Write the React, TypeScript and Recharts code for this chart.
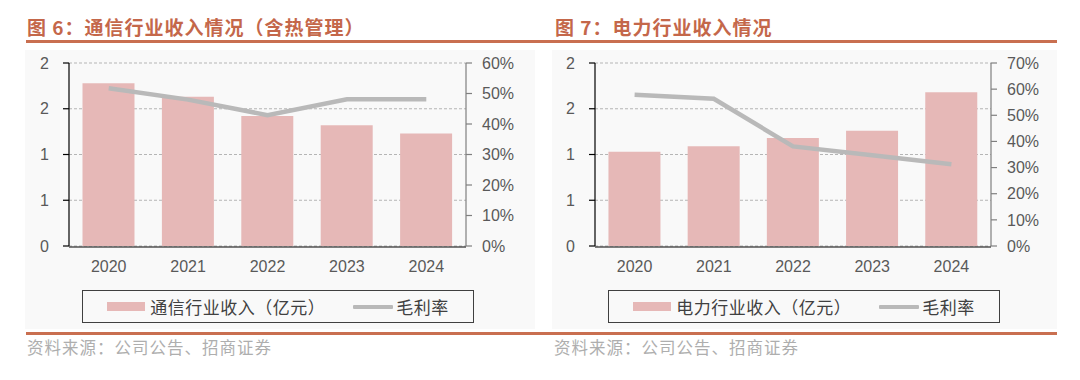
import React from 'react';
import {
  ComposedChart, Bar, Line, XAxis, YAxis, CartesianGrid, Legend,
} from 'recharts';

const years = ['2020', '2021', '2022', '2023', '2024'];
const commRevenue = [1.78, 1.63, 1.42, 1.32, 1.23];
const commMargin = [0.517, 0.48, 0.429, 0.481, 0.481];
const powerRevenue = [1.03, 1.09, 1.18, 1.26, 1.68];
const powerMargin = [0.579, 0.563, 0.381, 0.347, 0.313];
const revenueTicks = [0, 0.5, 1, 1.5, 2];
const commPctTicks = [0, 0.1, 0.2, 0.3, 0.4, 0.5, 0.6];
const powerPctTicks = [0, 0.1, 0.2, 0.3, 0.4, 0.5, 0.6, 0.7];
const edgeTicks = [0, 1, 2, 3, 4, 5];

const LATIN = '"Liberation Sans", Arial, sans-serif';
const CJK = '"Noto Sans CJK SC", "Liberation Sans", sans-serif';
const BAR_COLOR = '#e6b8b7';
const LINE_COLOR = '#b9b9b9';
const TITLE_COLOR = '#c4674a';
const RULE_COLOR = '#c96f50';

function buildData(revenue: number[], margin: number[]) {
  return years.map((y, i) => ({ year: y, revenue: revenue[i], margin: margin[i] }));
}

const LegendBox = (props: any) => {
  const payload = [...(props.payload || [])].sort(
    (a: any, b: any) => (a.type === 'rect' ? 0 : 1) - (b.type === 'rect' ? 0 : 1),
  );
  return (
    <div
      style={{
        boxSizing: 'border-box',
        width: '100%',
        height: '100%',
        border: '1.5px solid #404040',
        display: 'flex',
        alignItems: 'center',
        justifyContent: 'center',
        fontFamily: CJK,
        fontSize: 17,
        letterSpacing: 0.5,
        color: '#404040',
      }}
    >
      {payload.map((p: any, i: number) => (
        <div key={i} style={{ display: 'flex', alignItems: 'center', marginLeft: i === 0 ? 0 : 28 }}>
          {p.type === 'rect' ? (
            <div style={{ width: 38, height: 9, background: p.color, marginRight: 5 }} />
          ) : (
            <div style={{ width: 40, height: 4, background: p.color, marginRight: 3, borderRadius: 1 }} />
          )}
          <span style={{ lineHeight: '20px' }}>{p.value}</span>
        </div>
      ))}
    </div>
  );
};

type PanelProps = {
  left: number;
  width: number;
  leftAxisW: number;
  rightAxisW: number;
  legendLeft: number;
  revenue: number[];
  margin: number[];
  revenueName: string;
  pctTicks: number[];
};

function Panel(p: PanelProps) {
  const data = buildData(p.revenue, p.margin);
  const pctMax = p.pctTicks[p.pctTicks.length - 1];
  const tickStyle = { fill: '#595959', fontSize: 16, fontFamily: LATIN };
  return (
    <div style={{ position: 'absolute', left: p.left, top: 50, width: p.width, height: 279, background: '#f9f9f9' }}>
      <ComposedChart
        width={p.width}
        height={279}
        data={data}
        margin={{ top: 13, right: 0, bottom: 81, left: 0 }}
        barCategoryGap="17%"
      >
        <CartesianGrid
          xAxisId="cat"
          yAxisId="rev"
          vertical={false}
          stroke="#b5b5b5"
          strokeDasharray="3 2"
        />
        <XAxis
          xAxisId="edges"
          type="number"
          domain={[0, 5]}
          ticks={edgeTicks}
          allowDataOverflow
          height={1}
          tick={false}
          tickSize={6}
          axisLine={{ stroke: '#000', strokeWidth: 1.2 }}
          tickLine={{ stroke: '#000', strokeWidth: 1.2 }}
        />
        <XAxis
          xAxisId="cat"
          dataKey="year"
          height={1}
          axisLine={false}
          tickLine={false}
          tickSize={5}
          tickMargin={10}
          tick={tickStyle}
          interval={0}
        />
        <YAxis
          yAxisId="rev"
          orientation="left"
          width={p.leftAxisW}
          domain={[0, 2]}
          ticks={revenueTicks}
          tickFormatter={(v: number) => String(Math.round(v))}
          axisLine={{ stroke: '#000', strokeWidth: 1.2 }}
          tickLine={{ stroke: '#000', strokeWidth: 1.2 }}
          tickSize={6}
          tickMargin={14}
          tick={tickStyle}
          interval={0}
        />
        <YAxis
          yAxisId="pct"
          orientation="right"
          width={p.rightAxisW}
          domain={[0, pctMax]}
          ticks={p.pctTicks}
          tickFormatter={(v: number) => `${Math.round(v * 100)}%`}
          axisLine={{ stroke: '#7f7f7f', strokeWidth: 1.2 }}
          tickLine={{ stroke: '#7f7f7f', strokeWidth: 1.2 }}
          tickSize={6}
          tickMargin={10}
          tick={tickStyle}
          interval={0}
        />
        <Bar
          xAxisId="cat"
          yAxisId="rev"
          dataKey="revenue"
          name={p.revenueName}
          fill={BAR_COLOR}
          legendType="rect"
          isAnimationActive={false}
        />
        <Line
          xAxisId="cat"
          yAxisId="pct"
          dataKey="margin"
          name="毛利率"
          stroke={LINE_COLOR}
          strokeWidth={4.5}
          dot={false}
          activeDot={false}
          legendType="line"
          isAnimationActive={false}
        />
        <Legend
          layout="horizontal"
          verticalAlign="middle"
          align="center"
          content={<LegendBox />}
          wrapperStyle={{ left: p.legendLeft, top: 240, width: 392, height: 33 }}
        />
      </ComposedChart>
    </div>
  );
}

const titleStyle: React.CSSProperties = {
  position: 'absolute', top: 15, fontFamily: CJK, fontWeight: 700,
  fontSize: 19, color: TITLE_COLOR, whiteSpace: 'nowrap', lineHeight: '24px', letterSpacing: 1,
};

const sourceStyle: React.CSSProperties = {
  position: 'absolute', top: 336, fontFamily: CJK, fontSize: 16.5,
  color: '#aeaeae', whiteSpace: 'nowrap', lineHeight: '22px', letterSpacing: 1,
};

export default function App() {
  return (
    <div style={{ position: 'absolute', left: 0, top: 0, width: 1080, height: 380, background: '#fff', overflow: 'hidden' }}>
      <div style={{ ...titleStyle, left: 27 }}>图 6：通信行业收入情况（含热管理）</div>
      <div style={{ ...titleStyle, left: 555 }}>图 7：电力行业收入情况</div>
      <div style={{ position: 'absolute', left: 26, top: 40, width: 1031, height: 2.5, background: RULE_COLOR }} />

      <Panel
        left={25}
        width={510}
        leftAxisW={44}
        rightAxisW={69}
        legendLeft={57}
        revenue={commRevenue}
        margin={commMargin}
        revenueName="通信行业收入（亿元）"
        pctTicks={commPctTicks}
      />
      <Panel
        left={552}
        width={505}
        leftAxisW={43}
        rightAxisW={66}
        legendLeft={56}
        revenue={powerRevenue}
        margin={powerMargin}
        revenueName="电力行业收入（亿元）"
        pctTicks={powerPctTicks}
      />

      <div style={{ position: 'absolute', left: 26, top: 332, width: 1031, height: 2.5, background: RULE_COLOR }} />
      <div style={{ ...sourceStyle, left: 27 }}>资料来源：公司公告、招商证券</div>
      <div style={{ ...sourceStyle, left: 554 }}>资料来源：公司公告、招商证券</div>
    </div>
  );
}
